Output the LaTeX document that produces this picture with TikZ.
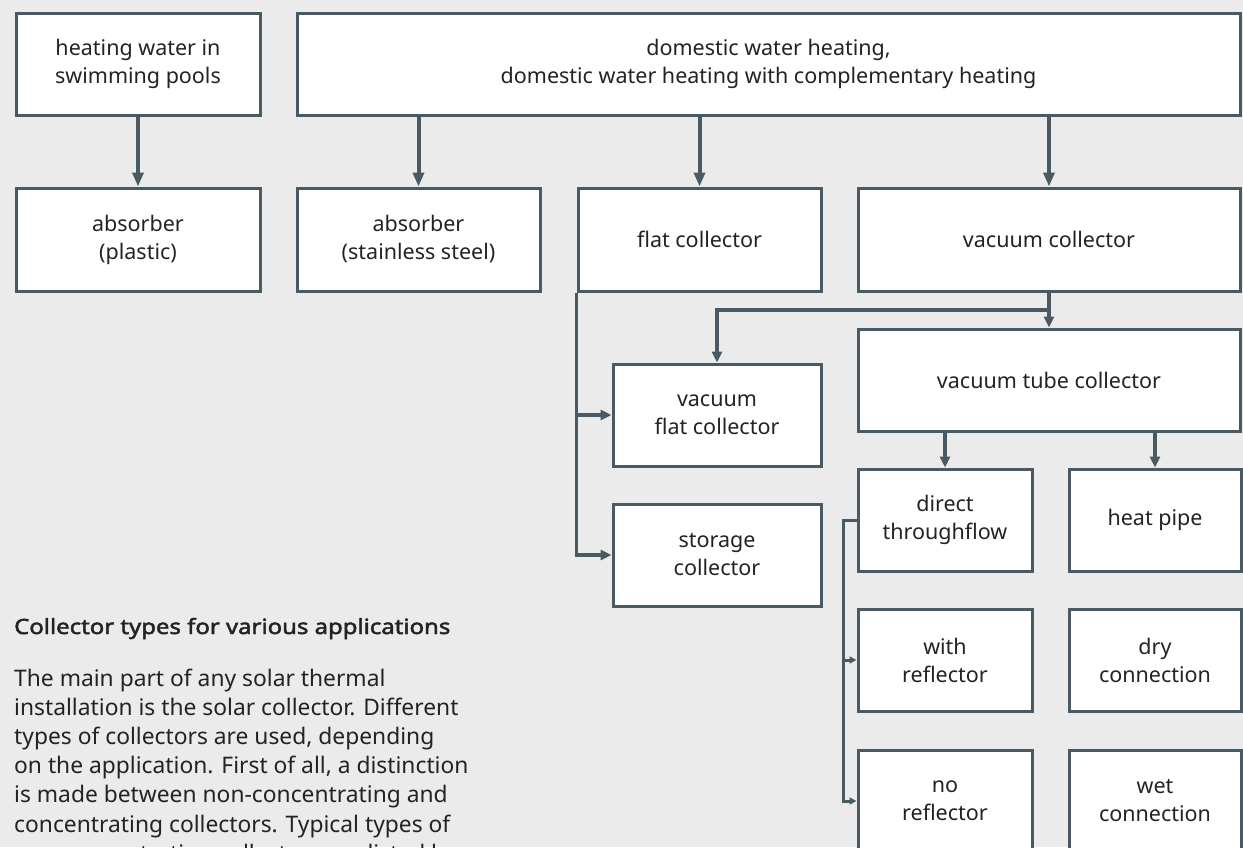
\documentclass[tikz,border=0pt]{standalone}
\usepackage{fontspec}
\setmainfont{Noto Sans}
\newfontfamily\headfont{Noto Sans}[FakeBold=2.2, FakeStretch=1.14]
\usetikzlibrary{arrows.meta}
\definecolor{bgc}{HTML}{EBEBEB}
\definecolor{linec}{HTML}{4A5A64}
\definecolor{txtc}{HTML}{232323}
\tikzset{
  box/.style={draw=linec, line width=3pt, fill=white, rectangle, inner sep=0pt,
    minimum height=102pt, align=center, text=txtc, font=\fontsize{21.5}{28}\selectfont},
  conn/.style={draw=linec, line width=4pt},
  bigarrow/.style={conn, -{Triangle[width=11pt,length=14pt]}},
  midarrow/.style={draw=linec, line width=3.5pt, -{Triangle[width=10pt,length=11pt]}},
  smallconn/.style={draw=linec, line width=3pt},
  smallarrow/.style={smallconn, -{Triangle[width=7pt,length=7pt]}},
}
\begin{document}
\begin{tikzpicture}[x=1pt,y=-1pt]
\fill[bgc] (0,0) rectangle (1243,847);
\useasboundingbox (0,0) rectangle (1243,847);
\begin{scope}
\clip (0,0) rectangle (1243,847);
% row 1
\node[box, minimum width=244pt] (pool) at (138,64) {heating water in\\swimming pools};
\node[box, minimum width=943pt] (dom) at (768.5,64) {domestic water heating,\\domestic water heating with complementary heating};
% row 2
\node[box, minimum width=244pt, minimum height=103pt] (absp) at (138,239.5) {absorber\\(plastic)};
\node[box, minimum width=243pt, minimum height=103pt] (abss) at (418.5,239.5) {absorber\\(stainless steel)};
\node[box, minimum width=243pt, minimum height=103pt] (flat) at (699.5,239.5) {flat collector};
\node[box, minimum width=382pt, minimum height=103pt] (vac) at (1049,239.5) {vacuum collector};
% row 3
\node[box, minimum width=208pt] (vflat) at (717,415) {vacuum\\flat collector};
\node[box, minimum width=208pt] (stor) at (717,555) {storage\\collector};
\node[box, minimum width=382pt] (tube) at (1049,380) {vacuum tube collector};
\node[box, minimum width=174pt] (direct) at (945,520) {direct\\throughflow};
\node[box, minimum width=172pt] (heat) at (1155,520) {heat pipe};
\node[box, minimum width=174pt] (withr) at (945,660) {with\\reflector};
\node[box, minimum width=172pt] (dry) at (1155,660) {dry\\connection};
\node[box, minimum width=174pt] (nor) at (945,801) {no\\reflector};
\node[box, minimum width=172pt] (wet) at (1155,801) {wet\\connection};
% connectors
\draw[bigarrow] (pool.south) -- (absp.north);
\draw[bigarrow] (abss.north |- dom.south) -- (abss.north);
\draw[bigarrow] (flat.north |- dom.south) -- (flat.north);
\draw[bigarrow] (vac.north |- dom.south) -- (vac.north);
% flat collector branch
\draw[midarrow] (flat.south west) |- (stor.west);
\draw[midarrow] (flat.south west |- vflat.west) -- (vflat.west);
% vacuum collector branch
\coordinate (vj) at (1049,310);
\draw[midarrow] (vac.south) -- (tube.north);
\draw[midarrow] (vj) -| (vflat.north);
% tube branch
\draw[midarrow] (direct.north |- tube.south) -- (direct.north);
\draw[midarrow] (heat.north |- tube.south) -- (heat.north);
% direct throughflow branch
\coordinate (dj) at (843,520);
\draw[smallarrow] (direct.west) -- (dj) |- (nor.west);
\draw[smallarrow] (dj |- withr.west) -- (withr.west);
% text
\node[anchor=base west, inner sep=0pt, text=txtc, font=\headfont\fontsize{21}{24}\selectfont] (head) at (14,634) {Collector types for various applications};
\node[anchor=north west, inner sep=0pt, align=left, text=txtc, font=\fontsize{22.8}{29.2}\selectfont] (para) at (14,668.5)
{The main part of any solar thermal\\
installation is the solar collector. Different\\
types of collectors are used, depending\\
on the application. First of all, a distinction\\
is made between non-concentrating and\\
concentrating collectors. Typical types of\\
non-concentrating collectors are listed here.};
\end{scope}
\end{tikzpicture}
\end{document}
